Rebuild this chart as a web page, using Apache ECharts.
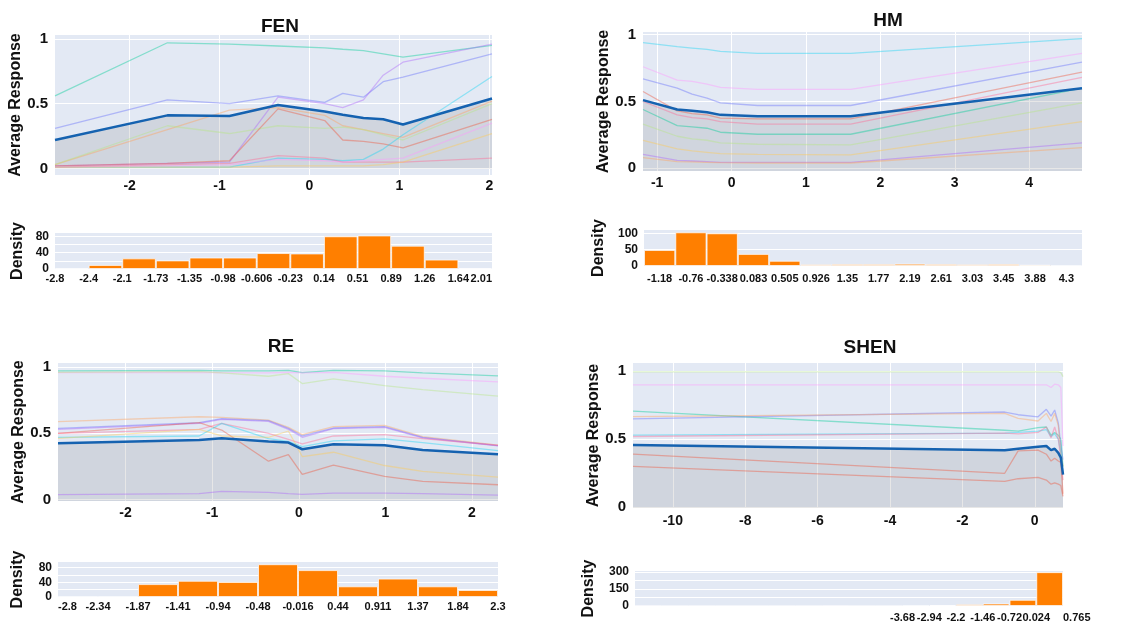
<!DOCTYPE html>
<html>
<head>
<meta charset="utf-8">
<script src="https://cdn.jsdelivr.net/npm/echarts@6/dist/echarts.min.js"></script>
<style>
  html, body { margin: 0; background: #fff; }
  #chart { width: 1129px; height: 624px; }
</style>
</head>
<body>
<div id="chart"></div>
<script>
// ---- FEN ----
var fenX = [-2.83, -1.58, -0.89, -0.35, 0.17, 0.37, 0.6, 0.82, 1.04, 2.03]
var fenAvg = [0.22, 0.41, 0.405, 0.49, 0.44, 0.415, 0.39, 0.38, 0.34, 0.54]
var fenLines = [
  [0.56, 0.97, 0.96, 0.945, 0.93, 0.92, 0.91, 0.885, 0.86, 0.95],
  [0.31, 0.53, 0.50, 0.56, 0.51, 0.58, 0.55, 0.67, 0.705, 0.885],
  [0.02, 0.04, 0.05, 0.55, 0.50, 0.47, 0.53, 0.72, 0.82, 0.96],
  [0.03, 0.30, 0.45, 0.47, 0.41, 0.33, 0.30, 0.27, 0.24, 0.52],
  [0.03, 0.33, 0.27, 0.33, 0.31, 0.32, 0.30, 0.26, 0.22, 0.50],
  [0.02, 0.04, 0.06, 0.46, 0.37, 0.22, 0.21, 0.19, 0.16, 0.38],
  [0.01, 0.01, 0.01, 0.08, 0.07, 0.06, 0.07, 0.15, 0.26, 0.71],
  [0.01, 0.03, 0.04, 0.10, 0.08, 0.05, 0.05, 0.05, 0.05, 0.08],
  [0.01, 0.02, 0.03, 0.07, 0.06, 0.05, 0.06, 0.07, 0.08, 0.35],
  [0.01, 0.01, 0.01, 0.02, 0.02, 0.02, 0.02, 0.03, 0.05, 0.27]
]
var fenXTicks = [-2, -1, 0, 1, 2]
var fenHist = [1.5, 10, 26, 21, 28, 28, 39, 38, 80, 82, 57, 23, 2]
var fenEdges = ['-2.8', '-2.4', '-2.1', '-1.73', '-1.35', '-0.98', '-0.606', '-0.23', '0.14', '0.51', '0.89', '1.26', '1.64', '2.01']

// ---- HM ----
var hmX = [-1.19, -0.73, -0.53, -0.33, -0.15, 0.35, 1.6, 4.71]
var hmAvg = [0.51, 0.44, 0.43, 0.42, 0.40, 0.39, 0.39, 0.60]
var hmLines = [
  [0.94, 0.91, 0.90, 0.89, 0.875, 0.86, 0.86, 0.97],
  [0.76, 0.66, 0.65, 0.63, 0.605, 0.59, 0.59, 0.86],
  [0.67, 0.60, 0.555, 0.525, 0.49, 0.47, 0.47, 0.795],
  [0.575, 0.43, 0.41, 0.40, 0.375, 0.37, 0.37, 0.72],
  [0.50, 0.40, 0.38, 0.37, 0.35, 0.33, 0.33, 0.68],
  [0.44, 0.32, 0.31, 0.30, 0.27, 0.255, 0.255, 0.60],
  [0.33, 0.24, 0.22, 0.21, 0.19, 0.18, 0.175, 0.49],
  [0.21, 0.145, 0.13, 0.12, 0.11, 0.105, 0.10, 0.35],
  [0.105, 0.06, 0.055, 0.05, 0.045, 0.045, 0.045, 0.19],
  [0.08, 0.05, 0.048, 0.045, 0.042, 0.04, 0.04, 0.155]
]
var hmXTicks = [-1, 0, 1, 2, 3, 4]
var hmHist = [49, 103, 100, 37, 16, 5, 6, 6, 7, 6, 5, 6, 4, 1]
var hmBins = ['-1.18', '-0.76', '-0.338', '0.083', '0.505', '0.926', '1.35', '1.77', '2.19', '2.61', '3.03', '3.45', '3.88', '4.3']

// ---- RE ----
var reX = [-2.78, -1.15, -0.89, -0.35, -0.12, 0.04, 0.4, 0.99, 1.43, 2.3]
var reAvg = [0.425, 0.45, 0.4625, 0.4375, 0.43, 0.38, 0.4175, 0.41, 0.375, 0.3425]
var reLines = [
  [0.97, 0.975, 0.97, 0.97, 0.975, 0.957, 0.975, 0.97, 0.955, 0.9325],
  [0.957, 0.96, 0.958, 0.955, 0.96, 0.955, 0.96, 0.93, 0.915, 0.8875],
  [0.96, 0.965, 0.955, 0.93, 0.95, 0.875, 0.91, 0.86, 0.83, 0.78],
  [0.5875, 0.625, 0.62, 0.60, 0.545, 0.49, 0.55, 0.56, 0.475, 0.41],
  [0.5375, 0.58, 0.61, 0.595, 0.5375, 0.48, 0.54, 0.55, 0.47, 0.4075],
  [0.53, 0.575, 0.605, 0.59, 0.53, 0.47, 0.535, 0.545, 0.465, 0.405],
  [0.50, 0.58, 0.525, 0.29, 0.34, 0.19, 0.26, 0.175, 0.1375, 0.1125],
  [0.50, 0.53, 0.575, 0.50, 0.455, 0.42, 0.48, 0.49, 0.46, 0.41],
  [0.47, 0.48, 0.575, 0.46, 0.44, 0.40, 0.4425, 0.4575, 0.43, 0.37],
  [0.4625, 0.53, 0.48, 0.47, 0.5175, 0.325, 0.3575, 0.2575, 0.2125, 0.17],
  [0.0375, 0.045, 0.0625, 0.055, 0.045, 0.04, 0.05, 0.05, 0.045, 0.035]
]
var reXTicks = [-2, -1, 0, 1, 2]
var reHist = [1, 1, 35, 44, 41, 89, 73, 29, 50, 29, 19]
var reEdges = ['-2.8', '-2.34', '-1.87', '-1.41', '-0.94', '-0.48', '-0.016', '0.44', '0.911', '1.37', '1.84', '2.3']

// ---- SHEN ----
var shenX = [-11.1, -0.83, -0.46, 0.09, 0.32, 0.45, 0.55, 0.65, 0.72, 0.78]
var shenAvg = [0.458, 0.42, 0.43, 0.444, 0.45, 0.42, 0.43, 0.40, 0.365, 0.24]
var shenLines = [
  [0.995, 0.995, 0.995, 0.995, 0.995, 0.995, 0.995, 0.995, 0.99, 0.96],
  [0.90, 0.90, 0.90, 0.90, 0.90, 0.88, 0.905, 0.90, 0.88, 0.45],
  [0.707, 0.566, 0.56, 0.585, 0.59, 0.53, 0.55, 0.53, 0.50, 0.30],
  [0.65, 0.70, 0.68, 0.665, 0.72, 0.67, 0.715, 0.62, 0.45, 0.35],
  [0.666, 0.69, 0.654, 0.634, 0.69, 0.63, 0.69, 0.60, 0.40, 0.30],
  [0.53, 0.545, 0.55, 0.56, 0.57, 0.52, 0.54, 0.50, 0.40, 0.25],
  [0.52, 0.545, 0.54, 0.55, 0.59, 0.51, 0.59, 0.50, 0.35, 0.20],
  [0.39, 0.25, 0.415, 0.42, 0.39, 0.34, 0.36, 0.34, 0.33, 0.10],
  [0.30, 0.19, 0.21, 0.22, 0.20, 0.17, 0.18, 0.17, 0.16, 0.08]
]
var shenXTicks = [-10, -8, -6, -4, -2, 0]
var shenHist = [1, 0, 0, 0, 0, 0, 0, 1, 0, 0, 3, 9, 15, 22, 55, 300]
var shenEdges = ['', '', '', '', '', '', '', '', '', '', '-3.68', '-2.94', '-2.2', '-1.46', '-0.72', '0.024', '0.765']

// ---- styles ----
var FONT = 'Liberation Sans, Arial, sans-serif'
var BG = '#e3e9f4'
var AVG_COLOR = '#1562b0'
var BAR_COLOR = '#ff7f00'
var fenColors = ['#00cc96', '#636efa', '#ab63fa', '#ffa15a', '#b6e880', '#ef553b', '#19d3f3', '#ff6692', '#ff97ff', '#fecb52']
var hmColors = ['#19d3f3', '#ff97ff', '#636efa', '#ef553b', '#ff6692', '#00cc96', '#b6e880', '#fecb52', '#ab63fa', '#ffa15a']
var reColors = ['#00cc96', '#ff97ff', '#b6e880', '#ffa15a', '#636efa', '#ab63fa', '#ef553b', '#ff6692', '#19d3f3', '#fecb52', '#ab63fa']
var shenColors = ['#b6e880', '#ff97ff', '#00cc96', '#636efa', '#ffa15a', '#19d3f3', '#ff6692', '#ef553b', '#ef553b']

function txt(size) {
  return { fontSize: size, fontWeight: 'bold', color: '#111', fontFamily: FONT }
}

var option = {
  animation: false,
  backgroundColor: '#fff',
  title: [],
  grid: [],
  xAxis: [],
  yAxis: [],
  series: []
}

function addPanel(p) {
  var g = option.grid.length
  option.title.push({
    text: p.title, left: p.titlePos[0], top: p.titlePos[1], textAlign: 'center',
    textStyle: txt(19)
  })
  option.grid.push({
    left: p.lineBox[0], top: p.lineBox[1], width: p.lineBox[2], height: p.lineBox[3],
    show: true, backgroundColor: BG, borderWidth: 0
  })
  option.grid.push({
    left: p.histBox[0], top: p.histBox[1], width: p.histBox[2], height: p.histBox[3],
    show: true, backgroundColor: BG, borderWidth: 0
  })

  // line plot axes
  var xl = option.xAxis.length
  option.xAxis.push({
    type: 'value', gridIndex: g, min: p.xRange[0], max: p.xRange[1],
    axisLine: { show: false },
    axisTick: { show: false, customValues: p.xTicks },
    axisLabel: Object.assign({ customValues: p.xTicks, margin: p.xMargin }, txt(14)),
    splitLine: { lineStyle: { color: '#fff', width: 1 } }
  })
  var yl = option.yAxis.length
  option.yAxis.push({
    type: 'value', gridIndex: g, min: p.yRange[0], max: p.yRange[1],
    name: 'Average Response', nameLocation: 'middle', nameGap: p.yNameGap, nameRotate: 90,
    nameTextStyle: txt(16),
    axisLine: { show: false },
    axisTick: { show: false, customValues: [0, 0.5, 1] },
    axisLabel: Object.assign({ customValues: [0, 0.5, 1], margin: 7 }, txt(15)),
    splitLine: { lineStyle: { color: '#fff', width: 1 } }
  })

  p.lines.forEach(function(ys, i) {
    option.series.push({
      type: 'line', xAxisIndex: xl, yAxisIndex: yl, silent: true,
      symbol: 'none',
      lineStyle: { width: 1.3, color: p.colors[i], opacity: 0.42 },
      data: p.x.map(function(x, k) { return [x, ys[k]] })
    })
  })
  option.series.push({
    type: 'line', xAxisIndex: xl, yAxisIndex: yl, silent: true,
    symbol: 'none',
    lineStyle: { width: 2.5, color: AVG_COLOR },
    areaStyle: { color: 'rgba(128,128,128,0.27)', origin: p.fillOrigin },
    data: p.x.map(function(x, k) { return [x, p.avg[k]] })
  })

  // histogram axes
  var xb = option.xAxis.length
  option.xAxis.push({
    type: 'category', gridIndex: g + 1, position: 'bottom', boundaryGap: true,
    data: p.binLabels || p.hist.map(function(v, i) { return String(i) }),
    axisLine: { show: false }, axisTick: { show: false },
    axisLabel: Object.assign({ show: !!p.binLabels, interval: 0, margin: p.histMargin }, txt(11)),
    splitLine: { show: false }
  })
  if (p.edges) {
    option.xAxis.push({
      type: 'category', gridIndex: g + 1, position: 'bottom', boundaryGap: false,
      data: p.edges,
      axisLine: { show: false }, axisTick: { show: false },
      axisLabel: Object.assign({
        interval: 0, margin: p.histMargin,
        alignMinLabel: p.alignMin || 'center', alignMaxLabel: p.alignMax || 'center'
      }, txt(11)),
      splitLine: { show: false }
    })
  }
  var yb = option.yAxis.length
  option.yAxis.push({
    type: 'value', gridIndex: g + 1, min: 0, max: p.histMax,
    name: 'Density', nameLocation: 'middle', nameGap: p.histNameGap, nameRotate: 90,
    nameTextStyle: txt(16),
    axisLine: { show: false },
    axisTick: { show: false, customValues: p.histGrid },
    axisLabel: Object.assign({ customValues: p.histTicks, margin: 6 }, txt(12)),
    splitLine: { lineStyle: { color: '#fff', width: 1 } }
  })
  option.series.push({
    type: 'bar', xAxisIndex: xb, yAxisIndex: yb, silent: true,
    barCategoryGap: '0%',
    itemStyle: { color: BAR_COLOR, borderColor: 'rgba(255,255,255,0.7)', borderWidth: 1 },
    data: p.hist
  })
}

addPanel({
  title: 'FEN', titlePos: [275, 12],
  lineBox: [55, 35, 437, 140], histBox: [55, 233, 437, 36],
  x: fenX, avg: fenAvg, lines: fenLines, colors: fenColors,
  xRange: [-2.83, 2.03], yRange: [-0.05, 1.03], xTicks: fenXTicks, xMargin: 4,
  yNameGap: 27, fillOrigin: 'auto',
  hist: fenHist, edges: fenEdges, alignMax: 'right', histMax: 88,
  histTicks: [0, 40, 80], histGrid: [0, 20, 40, 60, 80], histMargin: 4, histNameGap: 29
})
addPanel({
  title: 'HM', titlePos: [883, 6],
  lineBox: [643, 32, 439, 139], histBox: [644, 230, 438, 36],
  x: hmX, avg: hmAvg, lines: hmLines, colors: hmColors,
  xRange: [-1.19, 4.71], yRange: [-0.02, 1.02], xTicks: hmXTicks, xMargin: 5,
  yNameGap: 28, fillOrigin: 'start',
  hist: hmHist, binLabels: hmBins, histMax: 110,
  histTicks: [0, 50, 100], histGrid: [0, 50, 100], histMargin: 7, histNameGap: 37
})
addPanel({
  title: 'RE', titlePos: [276, 332],
  lineBox: [58, 363, 440, 138], histBox: [58, 562, 440, 35],
  x: reX, avg: reAvg, lines: reLines, colors: reColors,
  xRange: [-2.78, 2.3], yRange: [-0.01, 1.03], xTicks: reXTicks, xMargin: 5,
  yNameGap: 31, fillOrigin: 'start',
  hist: reHist, edges: reEdges, alignMin: 'left', histMax: 95,
  histTicks: [0, 40, 80], histGrid: [0, 20, 40, 60, 80], histMargin: 4, histNameGap: 32
})
addPanel({
  title: 'SHEN', titlePos: [865, 333],
  lineBox: [633, 363, 430, 145], histBox: [635, 571, 428, 35],
  x: shenX, avg: shenAvg, lines: shenLines, colors: shenColors,
  xRange: [-11.1, 0.78], yRange: [-0.005, 1.06], xTicks: shenXTicks, xMargin: 6,
  yNameGap: 29, fillOrigin: 'start',
  hist: shenHist, edges: shenEdges, alignMax: 'left', histMax: 310,
  histTicks: [0, 150, 300], histGrid: [0, 75, 150, 225, 300], histMargin: 6, histNameGap: 38
})

var chart = echarts.init(document.getElementById('chart'))
chart.setOption(option)
</script>
</body>
</html>
